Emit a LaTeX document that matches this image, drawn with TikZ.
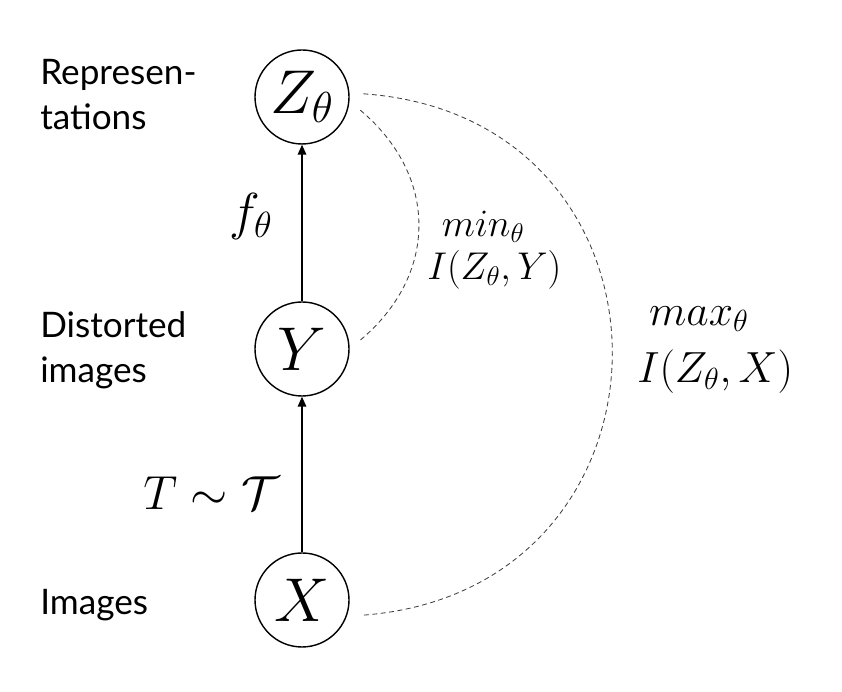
\RequirePackage{fix-cm}
\documentclass[tikz,border=0pt]{standalone}
\usepackage{fontspec}
\setsansfont{Lato}
\usetikzlibrary{arrows.meta}

\begin{document}
\begin{tikzpicture}[
var/.style ={circle, draw, line width=1pt, inner sep=0pt,
  minimum size=2.35cm, font=\fontsize{44}{44}\selectfont
},
lbl/.style ={anchor=base west, align=left, inner sep=0pt,
  font=\sffamily\fontsize{25}{32.7}\selectfont
},
flow/.style ={-{Triangle[length=7pt,width=6pt]}, line width=1pt},
info/.style ={dash pattern=on 3.5pt off 2.5pt, line width=0.6pt, black!75,
  shorten <=0.35cm, shorten >=0.35cm
}]
\useasboundingbox (0,0) rectangle (21.05,17.3);
\node (z) at (7.55,14.875) [var] {$Z_\theta$};
\node (y) at (7.55,8.575) [var] {$Y$};
\node (x) at (7.55,2.3) [var] {$X$};
\node (lz) at (1,14.05) [lbl] {Represen-\\tations};
\node (ly) at (1,7.725) [lbl] {Distorted\\images};
\node (lx) at (1,1.925) [lbl] {Images};
\draw[flow] (y) -- node[pos=0.54, left=0.72cm, inner sep=0pt, font=\fontsize{37}{37}\selectfont] {$f_\theta$} (z);
\draw[flow] (x) -- node[pos=0.38, left=0.55cm, inner sep=0pt, font=\fontsize{34}{34}\selectfont] {$T\sim\mathcal{T}$} (y);
% dashed information arcs
\draw[info] (z.-5) to[out=-40, in=40, looseness=1.2] (y.0);
\draw[info] (z.5) to[out=-4, in=4, looseness=1.7] (x.-20);
\node (lmin) at (10.675,10.3) [lbl, font=\fontsize{27.5}{30.6}\selectfont] {\hspace{.38em}$min_\theta$\\$I(Z_\theta,Y)$};
\node (lmax) at (15.925,7.725) [lbl, font=\fontsize{31}{41}\selectfont] {\hspace{.27em}$max_\theta$\\$I(Z_\theta,X)$};
\end{tikzpicture}
\end{document}
